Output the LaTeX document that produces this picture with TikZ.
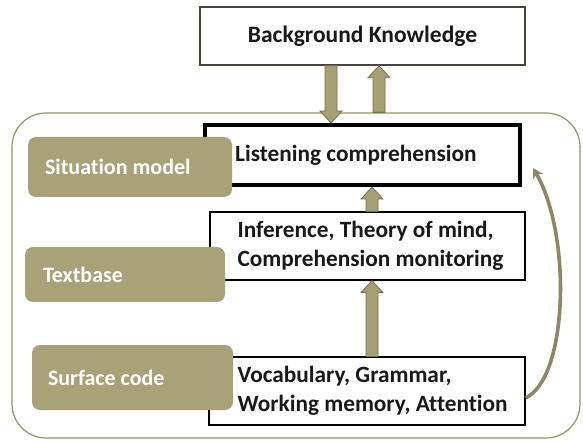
\documentclass[tikz,border=0pt]{standalone}
\usepackage{fontspec}
\setmainfont{Carlito}[Ligatures={NoCommon}]
\usetikzlibrary{arrows.meta,calc}
\definecolor{labfill}{RGB}{168,162,120}
\definecolor{arrfill}{RGB}{166,160,116}
\definecolor{arredge}{RGB}{118,114,78}
\definecolor{outeredge}{RGB}{150,145,105}
\definecolor{bkedge}{RGB}{70,70,60}
\definecolor{txt}{RGB}{25,25,25}
\newcommand\blockarrow[2]{%
  \filldraw[fill=arrfill,draw=arredge,line width=0.8pt]
    let \p1=(#1), \p2=(#2), \n1={ifthenelse(\y2>\y1,1,-1)} in
    (\x1-6pt,\y1) -- (\x1-6pt,\y2-12pt*\n1) -- (\x1-11pt,\y2-12pt*\n1) -- (\x1,\y2)
    -- (\x1+11pt,\y2-12pt*\n1) -- (\x1+6pt,\y2-12pt*\n1) -- (\x1+6pt,\y1) -- cycle;}
\begin{document}
\begin{tikzpicture}[x=1pt,y=-1pt,
  whitebox/.style={draw=black,fill=white,line width=1.2pt,inner sep=0pt},
  boxtext/.style={anchor=west,align=left,inner sep=0pt,
     font=\bfseries\fontsize{23.3}{29.5}\selectfont,text=txt},
  labbox/.style={fill=labfill,rounded corners=8pt,inner sep=0pt},
  labtext/.style={anchor=west,inner sep=0pt,text=white,
     font=\bfseries\fontsize{22}{26}\selectfont},
  ]
\useasboundingbox (0,0) rectangle (583,443);
% outer rounded frame
\node[draw=outeredge,line width=1.2pt,rounded corners=34pt,minimum width=568pt,minimum height=325pt,inner sep=0pt] (outer) at (296,275.5) {};
% background knowledge
\node[draw=bkedge,fill=white,line width=1.5pt,minimum width=325pt,minimum height=58pt,inner sep=0pt,
  font=\bfseries\fontsize{23.5}{27}\selectfont,text=txt] (bk) at (362.5,36) {Background Knowledge};
% main boxes
\node[whitebox,line width=4pt,minimum width=315pt,minimum height=60pt] (lis) at (362.5,155) {};
\node[boxtext] (listxt) at ($(lis.west)+(32,0)$) {Listening comprehension};
\node[whitebox,minimum width=315pt,minimum height=68pt] (inf) at (367.5,246) {};
\node[boxtext] (inftxt) at ($(inf.west)+(28,0)$) {Inference, Theory of mind,\\Comprehension monitoring};
\node[whitebox,minimum width=316pt,minimum height=68pt] (voc) at (367,391) {};
\node[boxtext] (voctxt) at ($(voc.west)+(29,0)$) {Vocabulary, Grammar,\\Working memory, Attention};
% level labels
\node[labbox,minimum width=204pt,minimum height=60pt] (sit) at (130,167) {};
\node[labtext] (sittxt) at ($(sit.west)+(17,0)$) {Situation model};
\node[labbox,minimum width=200pt,minimum height=55pt] (tb) at (125,274.5) {};
\node[labtext] (tbtxt) at ($(tb.west)+(18,0)$) {Textbase};
\node[labbox,minimum width=201pt,minimum height=65pt] (sc) at (132.5,377.5) {};
\node[labtext] (sctxt) at ($(sc.west)+(16,0)$) {Surface code};
% arrow anchor points
\coordinate (d1) at ($(bk.south)+(-31.5,0)$);
\coordinate (d2) at (d1 |- lis.north);
\coordinate (u1) at ($(bk.south)+(16.5,0)$);
\coordinate (u0) at (u1 |- outer.north);
\coordinate (m1) at ($(inf.north)+(4.5,0)$);
\coordinate (m2) at (m1 |- lis.south);
\coordinate (v1) at (m1 |- voc.north);
\coordinate (v2) at (m1 |- inf.south);
\blockarrow{d1}{d2}
\blockarrow{u0}{u1}
\blockarrow{m1}{m2}
\blockarrow{v1}{v2}
% curved feedback arrow
\coordinate (cend) at ($(lis.east)+(11,13)$);
\draw[arrfill!85!black,line width=3.6pt,-{Stealth[length=10pt,width=11pt]}]
  ($(voc.east)+(0,7)$) .. controls (568,378) and (572,235) .. (cend);
\end{tikzpicture}
\end{document}
